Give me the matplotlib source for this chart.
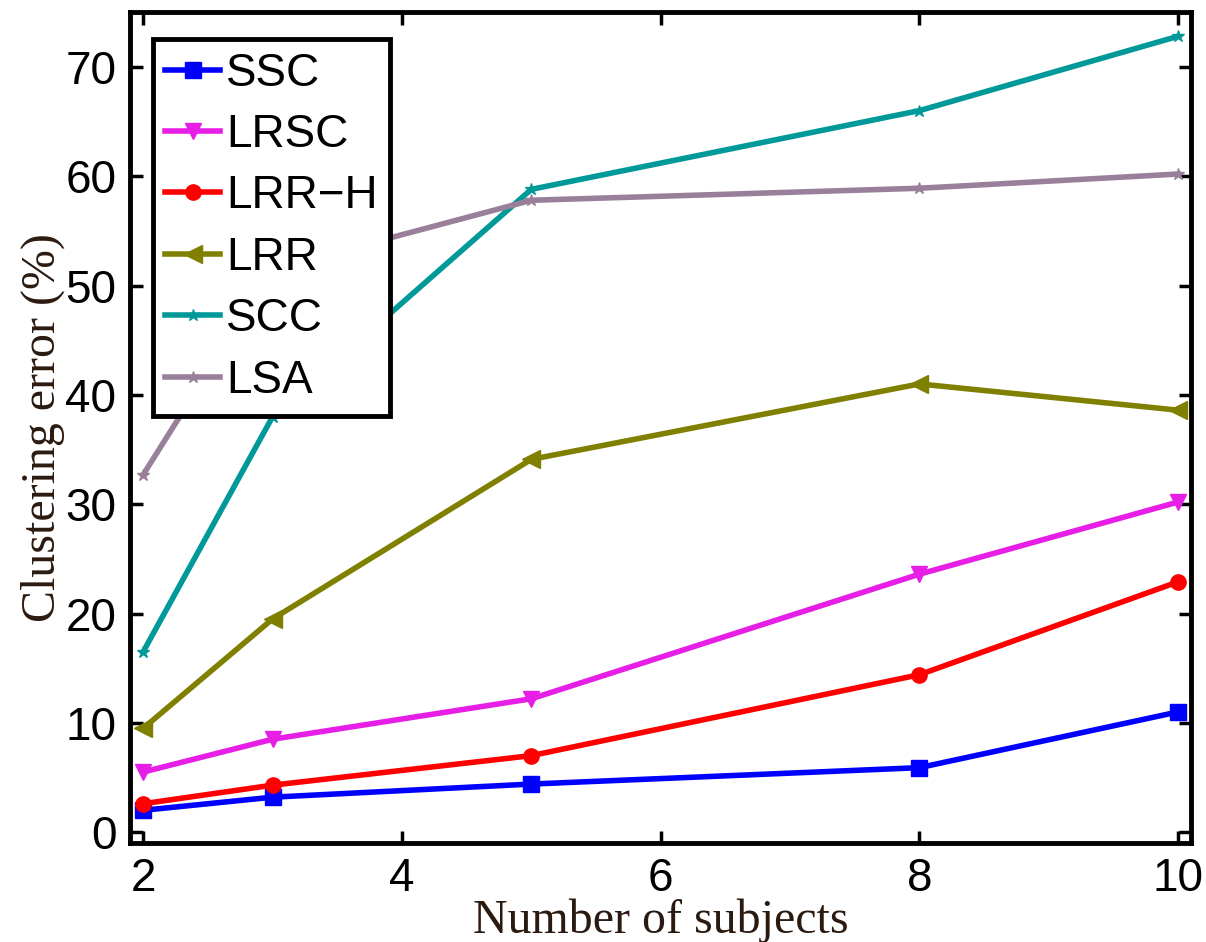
import matplotlib.pyplot as plt

# Clustering error vs number of subjects
subjects = [2, 3, 5, 8, 10]
ssc = [2.0, 3.2, 4.4, 5.9, 11.0]
lrsc = [5.5, 8.5, 12.2, 23.6, 30.2]
lrr_h = [2.6, 4.3, 7.0, 14.4, 22.9]
lrr = [9.5, 19.5, 34.1, 41.0, 38.6]
scc = [16.5, 38.0, 58.8, 66.0, 72.8]
lsa = [32.7, 51.5, 57.8, 58.9, 60.2]

x_ticks = [2, 4, 6, 8, 10]
y_ticks = [0, 10, 20, 30, 40, 50, 60, 70]

fig = plt.figure(figsize=(12.06, 9.42), dpi=100)
ax = fig.add_axes([0.108, 0.105, 0.8796, 0.882])

ax.plot(subjects, ssc, color='#0000ff', marker='s', markersize=11, linewidth=4, label='SSC')
ax.plot(subjects, lrsc, color='#e61ee6', marker='v', markersize=12, linewidth=4, label='LRSC')
ax.plot(subjects, lrr_h, color='#ff0000', marker='o', markersize=11, linewidth=4, label='LRR\u2212H')
ax.plot(subjects, lrr, color='#808000', marker='<', markersize=13, linewidth=4, label='LRR')
ax.plot(subjects, scc, color='#009999', marker='*', markersize=9, linewidth=4, label='SCC')
ax.plot(subjects, lsa, color='#9a7f9a', marker='*', markersize=9, linewidth=4, label='LSA')

ax.set_xlim(1.9, 10.1)
ax.set_ylim(-1, 75)
ax.set_xticks(x_ticks)
ax.set_yticks(y_ticks)

for s in ax.spines.values():
    s.set_linewidth(3.5)
ax.tick_params(direction='in', length=9, width=2.5, top=True, right=True,
               labelsize=33, pad=10)
for lab in ax.get_xticklabels() + ax.get_yticklabels():
    lab.set_family('Liberation Sans')

ax.set_xlabel('Number of subjects', fontsize=34.5, family='Liberation Serif',
              color='#2b1a10', labelpad=-2)
ax.set_ylabel('Clustering error (%)', fontsize=34.5, family='Liberation Serif',
              color='#2b1a10', labelpad=0)

leg = ax.legend(loc='upper left', bbox_to_anchor=(0.021, 0.968),
                prop={'family': 'Liberation Sans', 'size': 33},
                fancybox=False, framealpha=1, edgecolor='black',
                handlelength=1.2, handletextpad=0.12, labelspacing=0.38,
                borderpad=0.28, borderaxespad=0)
leg.get_frame().set_linewidth(3.5)

plt.savefig('out.png', dpi=100)
